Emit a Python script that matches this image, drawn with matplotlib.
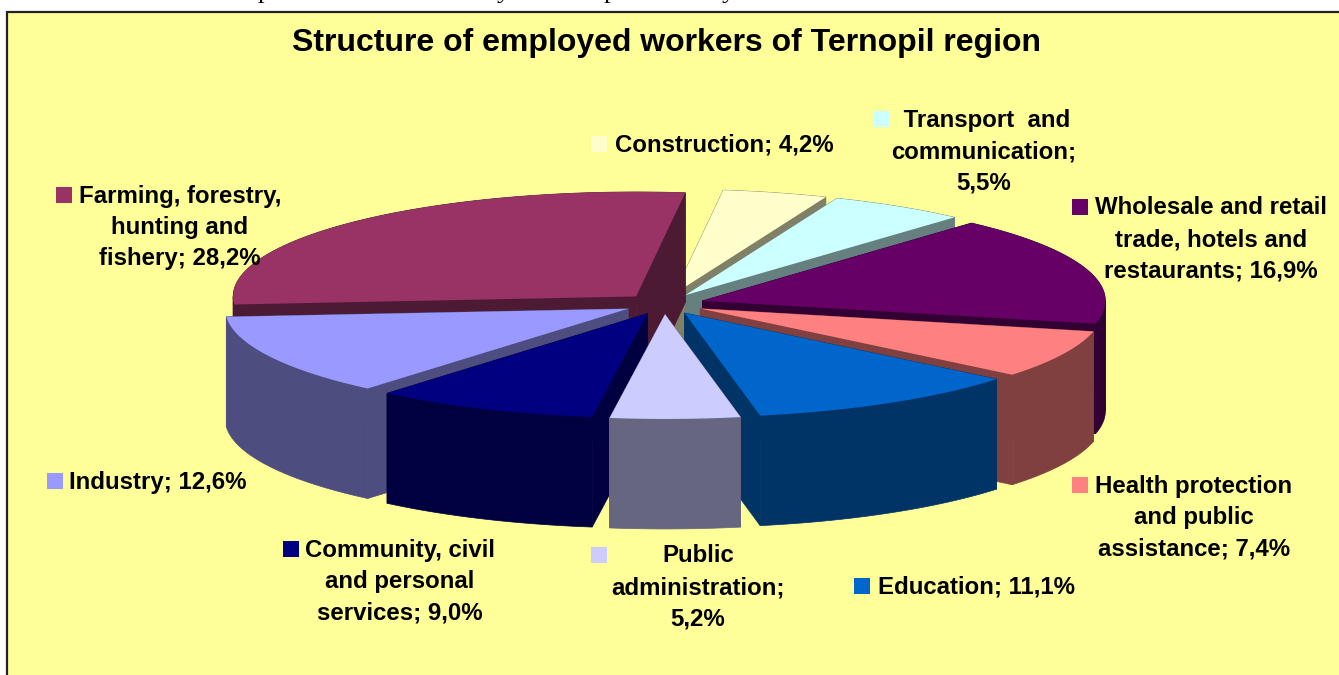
import numpy as np
import matplotlib
matplotlib.use("Agg")
import matplotlib.pyplot as plt
from matplotlib.patches import Polygon, Rectangle

# clockwise from the top, as in the chart
sectors = ["Construction", "Transport and communication",
           "Wholesale and retail trade, hotels and restaurants",
           "Health protection and public assistance", "Education",
           "Public administration", "Community, civil and personal services",
           "Industry", "Farming, forestry, hunting and fishery"]
shares = [4.2, 5.5, 16.9, 7.4, 11.1, 5.2, 9.0, 12.6, 28.2]
top_colors = ["#ffffcc", "#ccffff", "#660066", "#ff8080", "#0066cc",
              "#ccccff", "#000080", "#9999ff", "#993366"]
side_colors = ["#808066", "#668080", "#330033", "#804040", "#003366",
               "#666680", "#000040", "#4d4d80", "#4d1a33"]
label_lines = [["Construction; 4,2%"],
               [" Transport  and", "communication;", "5,5%"],
               ["Wholesale and retail", "trade, hotels and", "restaurants; 16,9%"],
               ["Health protection", "and public", "assistance; 7,4%"],
               ["Education; 11,1%"],
               ["Public", "administration;", "5,2%"],
               ["Community, civil", "and personal", "services; 9,0%"],
               ["Industry; 12,6%"],
               ["Farming, forestry,", "hunting and", "fishery; 28,2%"]]
# text centre x, first line y, key x, key y
label_pos = [(724, 145, 599, 144), (984, 120, 881, 119), (1211, 208, 1080, 207),
             (1194, 486, 1080, 485), (976, 587, 862, 586), (698, 556, 599, 555),
             (400, 550, 291, 549), (158, 482, 55, 481), (180, 196, 64, 195)]
# the cut-off line of body text above the chart: only these tails show
cut_letters = ["p", "y", "p", "y"]
cut_letter_x = [258, 497, 604, 722]

center = (664, 304)
rx, ry = 403, 104.5
depth = 110
explode = 0.1
start = 7
line_h = 31.5

fig = plt.figure(figsize=(13.39, 6.75), dpi=100, facecolor="white")
ax = fig.add_axes([0, 0, 1, 1])
ax.set_xlim(0, 1339)
ax.set_ylim(675, 0)
ax.axis("off")

ax.add_patch(Rectangle((7, 12), 1400, 700, facecolor="#ffff99", edgecolor="#222222", lw=1.6))
ax.text(666, 43, "Structure of employed workers of Ternopil region", ha="center", va="center",
        family="Liberation Sans", weight="bold", fontsize=23)
for c, x in zip(cut_letters, cut_letter_x):
    ax.text(x, -2, c, family="Liberation Serif", fontsize=19, va="baseline", clip_on=True)


def pt(a, ox, oy, r=1.0):
    t = np.radians(a)
    return ox + r * rx * np.sin(t), oy - r * ry * np.cos(t)


edges = start + np.cumsum([0] + shares) * 360 / sum(shares)
mids = (edges[:-1] + edges[1:]) / 2
# back slices first, front ones paint over them
for i in np.argsort(-np.cos(np.radians(mids))):
    ox, oy = pt(mids[i], center[0], center[1], explode)
    # radial walls
    for e in (edges[i], edges[i + 1]):
        ex, ey = pt(e, ox, oy)
        wall = [(ox, oy), (ex, ey), (ex, ey + depth), (ox, oy + depth)]
        ax.add_patch(Polygon(wall, facecolor=side_colors[i], edgecolor=side_colors[i], lw=0.5))
    # outer wall, split where the ellipse turns so each piece stays simple
    cuts = [edges[i]] + [c for c in (90, 270) if edges[i] < c < edges[i + 1]] + [edges[i + 1]]
    for a0, a1 in zip(cuts[:-1], cuts[1:]):
        xs, ys = pt(np.linspace(a0, a1, 60), ox, oy)
        outer = np.vstack([np.column_stack([xs, ys]), np.column_stack([xs, ys + depth])[::-1]])
        ax.add_patch(Polygon(outer, facecolor=side_colors[i], edgecolor=side_colors[i], lw=0.5))
    xs, ys = pt(np.linspace(edges[i], edges[i + 1], 80), ox, oy)
    top = np.column_stack([xs, ys])
    ax.add_patch(Polygon(np.vstack([[ox, oy], top]), facecolor=top_colors[i], edgecolor="none"))

for i, lines in enumerate(label_lines):
    tx, ty, kx, ky = label_pos[i]
    for j, s in enumerate(lines):
        ax.text(tx, ty + j * line_h, s, ha="center", va="center",
                family="Liberation Sans", weight="bold", fontsize=17.3)
    ax.add_patch(Rectangle((kx - 8, ky - 8), 16, 16, facecolor=top_colors[i], edgecolor="none"))

fig.savefig("out.png", dpi=100, facecolor="white")
